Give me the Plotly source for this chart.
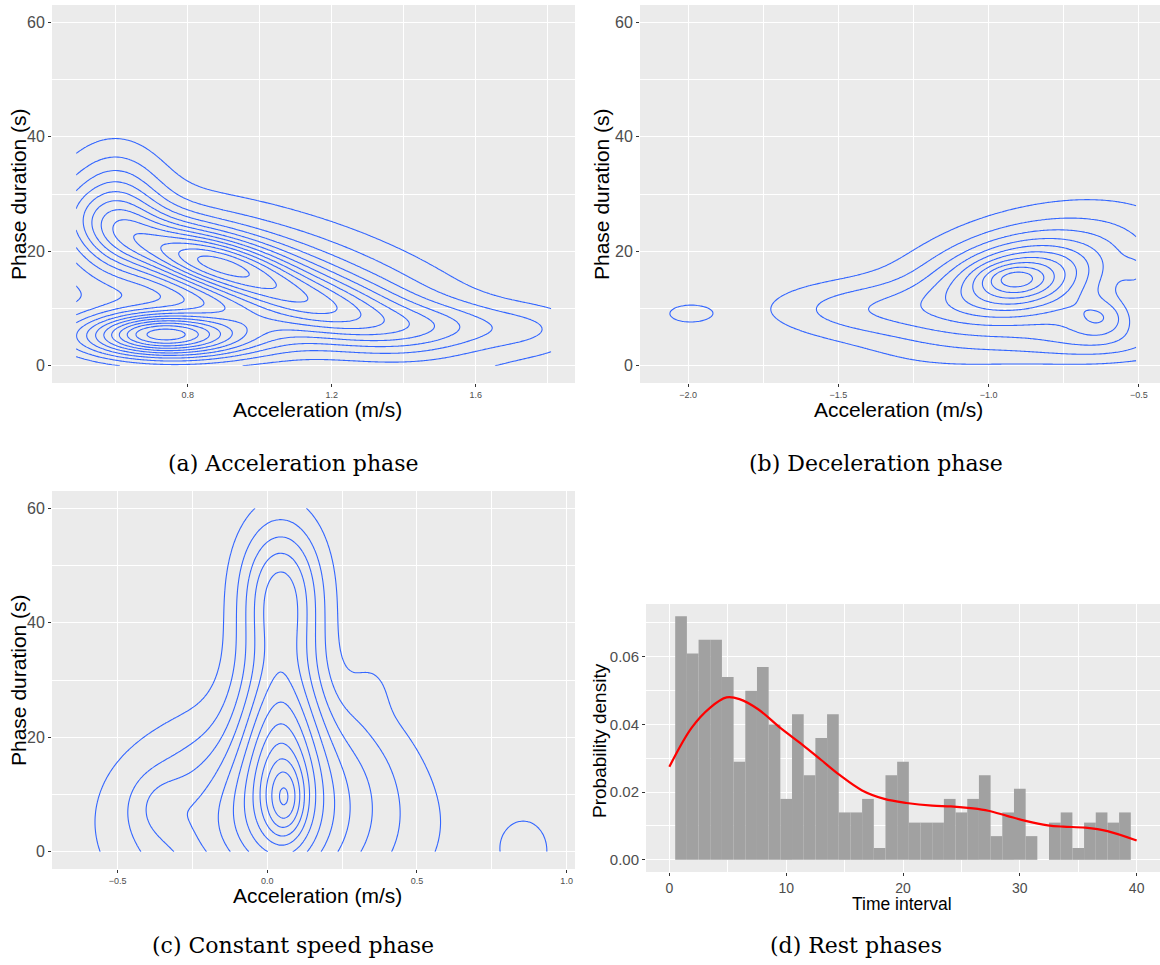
import numpy as np
import plotly.graph_objects as go

W, H = 1160, 965

# ---------------- Panel (a) : acceleration phase (2-D density)
a_xlim = [0.49, 1.81]
a_cx  = [0.715, 0.74, 0.80, 0.84, 0.90, 1.05, 0.60, 1.25, 1.50, 1.76]
a_cy  = [6.0, 5.3, 4.0, 18.5, 17.2, 15.0, 27.0, 9.0, 7.0, 6.5]
a_sx  = [0.09, 0.17, 0.25, 0.13, 0.22, 0.36, 0.09, 0.16, 0.13, 0.12]
a_sy  = [2.0, 2.8, 4.0, 3.0, 6.0, 9.5, 7.4, 4.0, 2.8, 3.0]
a_rho = [0.0, 0.0, 0.0, -0.4, -0.75, -0.6, 0.0, -0.4, 0.0, 0.0]
a_w   = [1.5, 7.0, 1.5, 1.5, 5.5, 3.4, 3.0, 2.2, 1.4, 1.1]
a_step = 0.8

# ---------------- Panel (b) : deceleration phase
b_xlim = [-2.081, -0.509]
b_cx  = [-0.92, -0.90, -0.88, -0.90, -0.65, -0.62, -0.60, -0.50, -1.45, -2.00]
b_cy  = [15.3, 15.0, 15.0, 15.0, 7.0, 8.5, 3.5, 16.3, 10.0, 9.1]
b_sx  = [0.07, 0.14, 0.25, 0.32, 0.15, 0.07, 0.30, 0.04, 0.22, 0.09]
b_sy  = [1.6, 3.8, 6.5, 9.0, 3.5, 2.4, 2.5, 2.2, 3.5, 2.0]
b_rho = [0.0, 0.2, 0.4, 0.45, 0.0, 0.0, 0.0, 0.0, 0.0, 0.0]
b_w   = [1.5, 3.5, 3.5, 2.2, 1.8, 1.9, 1.2, 1.2, 2.0, 1.2]
b_step = 1.0

# ---------------- Panel (c) : constant speed phase
c_xlim = [-0.64, 0.948]
c_cx  = [0.00, 0.00, -0.36, 0.045, 0.045, 0.06, 0.35, 0.30, 0.87]
c_cy  = [5.0, 5.0, 8.0, 20.0, 46.0, 9.0, 29.0, 18.0, 0.0]
c_sx  = [0.28, 0.40, 0.07, 0.10, 0.10, 0.045, 0.05, 0.12, 0.10]
c_sy  = [12.0, 12.0, 4.0, 14.0, 9.0, 4.5, 4.0, 8.0, 7.0]
c_rho = [0.0, 0.0, 0.0, 0.0, 0.0, 0.0, 0.0, 0.0, 0.0]
c_w   = [3.8, 1.5, 1.0, 6.0, 4.5, 2.8, 0.6, 0.7, 1.1]
c_step = 1.0

# ---------------- Panel (d) : rest phases histogram + density
d_bin_centers = list(range(1, 40))
d_density = [0.072, 0.061, 0.065, 0.065, 0.054, 0.029, 0.050, 0.057, 0.040, 0.018,
             0.043, 0.025, 0.036, 0.043, 0.014, 0.014, 0.018, 0.0035, 0.025, 0.029,
             0.011, 0.011, 0.011, 0.018, 0.014, 0.018, 0.025, 0.007, 0.014, 0.021,
             0.007, 0.0, 0.011, 0.014, 0.0035, 0.011, 0.014, 0.011, 0.014]
d_curve_x = [0, 1.9, 3.5, 4.9, 6.0, 7.6, 9.5, 11.4, 13.0, 14.6, 16.5, 18.4, 20.3,
             22.5, 24.1, 26.0, 27.3, 28.9, 30.5, 32.4, 33.7, 35.6, 37.5, 40.0]
d_curve_y = [0.0275, 0.039, 0.045, 0.048, 0.0475, 0.0445, 0.039, 0.034, 0.0295,
             0.025, 0.0205, 0.018, 0.0168, 0.016, 0.0158, 0.0152, 0.0145, 0.013,
             0.0115, 0.0102, 0.0098, 0.0095, 0.0085, 0.0057]

captions = ["(a) Acceleration phase", "(b) Deceleration phase",
            "(c) Constant speed phase", "(d) Rest phases"]


def density(xlim, cx, cy, sx, sy, rho, w, n=240):
    xs = np.linspace(xlim[0], xlim[1], n)
    ys = np.linspace(0, 60, n)
    X, Y = np.meshgrid(xs, ys)
    Z = np.zeros_like(X)
    for i in range(len(cx)):
        dx = (X - cx[i]) / sx[i]
        dy = (Y - cy[i]) / sy[i]
        r = rho[i]
        q = (dx * dx - 2 * r * dx * dy + dy * dy) / (1 - r * r)
        Z += w[i] * np.exp(-0.5 * q)
    return xs, ys, Z


BLUE = "#3366FF"
fig = go.Figure()

for k, (xl, cx, cy, sx, sy, rho, w, step) in enumerate([
        (a_xlim, a_cx, a_cy, a_sx, a_sy, a_rho, a_w, a_step),
        (b_xlim, b_cx, b_cy, b_sx, b_sy, b_rho, b_w, b_step),
        (c_xlim, c_cx, c_cy, c_sx, c_sy, c_rho, c_w, c_step)]):
    xs, ys, Z = density(xl, cx, cy, sx, sy, rho, w)
    sfx = "" if k == 0 else str(k + 1)
    fig.add_trace(go.Contour(
        x=xs, y=ys, z=Z, xaxis="x" + sfx, yaxis="y" + sfx,
        contours=dict(coloring="lines", start=step, end=float(Z.max()), size=step,
                      showlabels=False),
        colorscale=[[0, BLUE], [1, BLUE]], showscale=False,
        line=dict(width=1.1), hoverinfo="skip"))

fig.add_trace(go.Bar(x=d_bin_centers, y=d_density, width=1.0,
                     marker=dict(color="#A1A1A1", line=dict(width=0)),
                     xaxis="x4", yaxis="y4", hoverinfo="skip"))
fig.add_trace(go.Scatter(x=d_curve_x, y=d_curve_y, mode="lines",
                         line=dict(color="#FF0000", width=2.2, shape="spline"),
                         xaxis="x4", yaxis="y4", hoverinfo="skip"))


def xd(x0, x1):
    return [x0 / W, x1 / W]


def yd(y0, y1):
    return [1 - y1 / H, 1 - y0 / H]


def axis(dom, rng, tv, tt, minor, size, anchor):
    return dict(domain=dom, range=rng, tickmode="array", tickvals=tv, ticktext=tt,
                showgrid=True, gridcolor="white", gridwidth=1.1, zeroline=False,
                showline=False, ticks="outside", ticklen=3, tickwidth=1,
                tickcolor="#333333",
                tickfont=dict(family="Liberation Sans", size=size, color="#4D4D4D"),
                minor=dict(showgrid=True, gridcolor="white", gridwidth=0.5,
                           tickvals=minor),
                anchor=anchor, fixedrange=True)


yt = [0, 20, 40, 60]
ytt = ["0", "20", "40", "60"]
ym = [10, 30, 50]

layout = dict(
    width=W, height=H, margin=dict(l=0, r=0, t=0, b=0),
    paper_bgcolor="white", plot_bgcolor="#EBEBEB", showlegend=False,
    xaxis=axis(xd(52, 575), [0.423, 1.876], [0.8, 1.2, 1.6], ["0.8", "1.2", "1.6"],
               [0.6, 1.0, 1.4, 1.8], 9, "y"),
    yaxis=axis(yd(5, 383), [-3, 63], yt, ytt, ym, 16, "x"),
    xaxis2=axis(xd(640, 1160), [-2.16, -0.43], [-2.0, -1.5, -1.0, -0.5],
                ["\u22122.0", "\u22121.5", "\u22121.0", "\u22120.5"],
                [-1.75, -1.25, -0.75], 9, "y2"),
    yaxis2=axis(yd(5, 383), [-3, 63], yt, ytt, ym, 16, "x2"),
    xaxis3=axis(xd(52, 575), [-0.719, 1.028], [-0.5, 0.0, 0.5, 1.0],
                ["\u22120.5", "0.0", "0.5", "1.0"], [-0.25, 0.25, 0.75], 9, "y3"),
    yaxis3=axis(yd(491, 869), [-3, 63], yt, ytt, ym, 16, "x3"),
    xaxis4=axis(xd(646, 1160), [-2, 42], [0, 10, 20, 30, 40],
                ["0", "10", "20", "30", "40"], [5, 15, 25, 35], 14, "y4"),
    yaxis4=axis(yd(604, 872), [-0.0036, 0.0756], [0, 0.02, 0.04, 0.06],
                ["0.00", "0.02", "0.04", "0.06"], [0.01, 0.03, 0.05, 0.07], 15, "x4"),
)
fig.update_layout(**layout)

ann = []
for (x, y, t, ang, sz) in [
        (317, 409, "Acceleration (m/s)", 0, 21), (898, 409, "Acceleration (m/s)", 0, 21),
        (317, 895, "Acceleration (m/s)", 0, 21), (902, 904, "Time interval", 0, 17.5),
        (18, 194, "Phase duration (s)", -90, 21), (601, 194, "Phase duration (s)", -90, 21),
        (18, 680, "Phase duration (s)", -90, 21), (599, 740, "Probability density", -90, 19)]:
    ann.append(dict(x=x / W, y=1 - y / H, xref="paper", yref="paper", text=t,
                    showarrow=False, textangle=ang, xanchor="center", yanchor="middle",
                    font=dict(family="Liberation Sans", size=sz, color="black")))
for (x, y), t in zip([(293, 463), (876, 463), (293, 945), (856, 945)], captions):
    ann.append(dict(x=x / W, y=1 - y / H, xref="paper", yref="paper", text=t,
                    showarrow=False, xanchor="center", yanchor="middle",
                    font=dict(family="DejaVu Serif", size=22, color="black")))
fig.update_layout(annotations=ann)

fig.write_html("out.html")
